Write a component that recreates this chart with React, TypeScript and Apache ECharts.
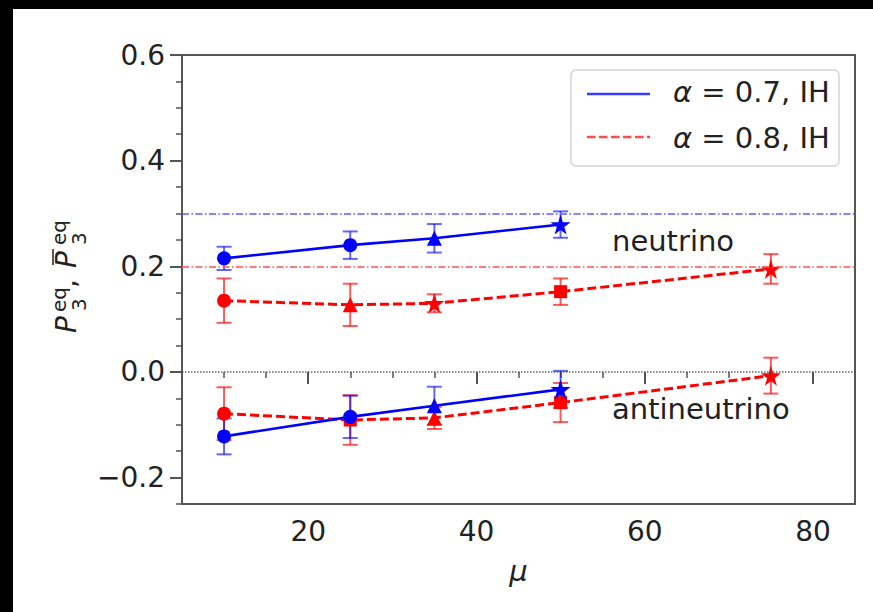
import React, { useEffect, useRef } from 'react';
import * as echarts from 'echarts';

const FONT = 'DejaVu Sans';

// mu values
const muBlue = [10, 25, 35, 50];
const muRed = [10, 25, 35, 50, 75];

// alpha = 0.7, IH (blue)
const blueNu = [0.215, 0.24, 0.253, 0.279];
const blueNuErr = [0.022, 0.026, 0.027, 0.025];
const blueAnti = [-0.122, -0.085, -0.064, -0.033];
const blueAntiErr = [0.034, 0.04, 0.036, 0.035];

// alpha = 0.8, IH (red)
const redNu = [0.135, 0.127, 0.13, 0.152, 0.195];
const redNuErr = [0.042, 0.04, 0.017, 0.025, 0.028];
const redAnti = [-0.079, -0.091, -0.087, -0.058, -0.007];
const redAntiErr = [0.05, 0.047, 0.021, 0.037, 0.034];

// markers
const blueNuMarkers = ['circle', 'circle', 'triangle', 'star'];
const redNuMarkers = ['circle', 'triangle', 'star', 'rect', 'star'];
const blueAntiMarkers = ['circle', 'circle', 'triangle', 'star'];
const redAntiMarkers = ['circle', 'rect', 'triangle', 'rect', 'star'];

// axes
const xMajor = [20, 40, 60, 80];
const yMajor = [-0.2, 0, 0.2, 0.4, 0.6];

const STAR = 'path://M50,0 L61,35 L98,35 L68,57 L79,91 L50,70 L21,91 L32,57 L2,35 L39,35 Z';
const symMap: Record<string, string> = { circle: 'circle', triangle: 'triangle', rect: 'rect', star: STAR };
const sizeMap: Record<string, number> = { circle: 14, triangle: 15, rect: 13, star: 20 };

function lineSeries(name: string, xs: number[], ys: number[], markers: string[], color: string, dashed: boolean) {
  return {
    type: 'line',
    name,
    data: xs.map((x, i) => ({ value: [x, ys[i]], symbol: symMap[markers[i]], symbolSize: sizeMap[markers[i]] })),
    lineStyle: { color, width: dashed ? 3 : 2.6, type: dashed ? [9, 4] : 'solid' },
    itemStyle: { color },
    showSymbol: true,
    z: 4,
    animation: false,
  };
}

function errSeries(xs: number[], ys: number[], errs: number[], color: string) {
  return {
    type: 'custom',
    data: xs.map((x, i) => [x, ys[i], errs[i]]),
    encode: { x: 0, y: 1 },
    z: 3,
    silent: true,
    renderItem: (params: any, api: any) => {
      const x = api.value(0);
      const y = api.value(1);
      const e = api.value(2);
      const t = api.coord([x, y + e]);
      const b = api.coord([x, y - e]);
      const hw = 7.5;
      const st = { stroke: color, lineWidth: 2 };
      return {
        type: 'group',
        children: [
          { type: 'line', shape: { x1: t[0], y1: t[1], x2: b[0], y2: b[1] }, style: st },
          { type: 'line', shape: { x1: t[0] - hw, y1: t[1], x2: t[0] + hw, y2: t[1] }, style: st },
          { type: 'line', shape: { x1: b[0] - hw, y1: b[1], x2: b[0] + hw, y2: b[1] }, style: st },
        ],
      };
    },
  };
}

function fmtY(v: number) {
  if (Math.abs(v) < 1e-9) return '0.0';
  return v < 0 ? '\u2212' + Math.abs(v).toFixed(1) : v.toFixed(1);
}

function txt(x: number, y: number, text: string, fontSize: number, italic: boolean, align = 'left', extra: any = {}) {
  return {
    type: 'text',
    x,
    y,
    style: {
      text,
      fontSize,
      fontFamily: FONT,
      fontStyle: italic ? 'italic' : 'normal',
      fill: '#222',
      align,
      verticalAlign: 'middle',
      textAlign: align,
      textVerticalAlign: 'middle',
      ...extra,
    },
    silent: true,
  };
}

export default function App() {
  const ref = useRef<HTMLDivElement>(null);
  useEffect(() => {
    document.body.style.margin = '0';
    document.documentElement.style.overflow = 'hidden';
    document.body.style.overflow = 'hidden';
    if (!ref.current) return;
    const chart = echarts.init(ref.current, undefined, { renderer: 'svg' });
    const axisCommon = {
      type: 'value',
      gridIndex: 0,
      splitLine: { show: false },
      axisLine: { show: false },
    };
    const option: any = {
      animation: false,
      backgroundColor: '#ffffff',
      textStyle: { fontFamily: FONT },
      grid: {
        left: 169,
        top: 46,
        right: 18,
        bottom: 108,
        show: true,
        borderColor: '#555',
        borderWidth: 2,
        backgroundColor: 'transparent',
      },
      xAxis: [
        {
          ...axisCommon,
          min: 5,
          max: 85,
          interval: 5,
          position: 'bottom',
          axisTick: { show: true, customValues: xMajor, length: 12, lineStyle: { color: '#555', width: 2 } },
          axisLabel: { customValues: xMajor, fontSize: 28, color: '#222', margin: 13, fontFamily: FONT },
          name: '\u03bc',
          nameLocation: 'middle',
          nameGap: 52,
          nameTextStyle: { fontSize: 29, fontStyle: 'italic', color: '#222', fontFamily: FONT },
        },
        {
          ...axisCommon,
          min: 5,
          max: 85,
          interval: 5,
          position: 'bottom',
          axisTick: { show: true, length: 6, lineStyle: { color: '#555', width: 1.5 } },
          axisLabel: { show: false },
        },
      ],
      yAxis: [
        {
          ...axisCommon,
          min: -0.25,
          max: 0.6,
          interval: 0.05,
          position: 'left',
          axisTick: { show: true, customValues: yMajor, length: 12, lineStyle: { color: '#555', width: 2 } },
          axisLabel: { customValues: yMajor, fontSize: 28, color: '#222', margin: 17, fontFamily: FONT, formatter: fmtY },
        },
        {
          ...axisCommon,
          min: -0.25,
          max: 0.6,
          interval: 0.05,
          position: 'left',
          axisTick: { show: true, length: 6, lineStyle: { color: '#555', width: 1.5 } },
          axisLabel: { show: false },
        },
      ],
      series: [
        {
          type: 'line',
          data: [],
          z: 1,
          markLine: {
            silent: true,
            symbol: 'none',
            label: { show: false },
            animation: false,
            data: [
              { yAxis: 0.3, lineStyle: { color: 'rgba(90,90,255,0.75)', width: 2, type: [7, 2.5, 1.5, 2.5] } },
              { yAxis: 0.2, lineStyle: { color: 'rgba(255,80,80,0.75)', width: 2, type: [7, 2.5, 1.5, 2.5] } },
              { yAxis: 0, lineStyle: { color: 'rgba(60,60,60,0.8)', width: 1.5, type: [1.5, 1.5] } },
            ],
          },
        },
        errSeries(muRed, redNu, redNuErr, 'rgba(255,0,0,0.65)'),
        errSeries(muRed, redAnti, redAntiErr, 'rgba(255,0,0,0.65)'),
        lineSeries('\u03b1 = 0.8, IH', muRed, redNu, redNuMarkers, '#ff0000', true),
        lineSeries('\u03b1 = 0.8, IH anti', muRed, redAnti, redAntiMarkers, '#ff0000', true),
        errSeries(muBlue, blueNu, blueNuErr, 'rgba(0,0,255,0.6)'),
        errSeries(muBlue, blueAnti, blueAntiErr, 'rgba(0,0,255,0.6)'),
        lineSeries('\u03b1 = 0.7, IH', muBlue, blueNu, blueNuMarkers, '#0000ff', false),
        lineSeries('\u03b1 = 0.7, IH anti', muBlue, blueAnti, blueAntiMarkers, '#0000ff', false),
      ],
      graphic: [
        // legend
        {
          type: 'rect',
          shape: { x: 558, y: 61, width: 268, height: 96, r: 5 },
          style: { fill: 'rgba(255,255,255,0.85)', stroke: '#d5d5d5', lineWidth: 1.5 },
          z: 10,
          silent: true,
        },
        {
          type: 'line',
          shape: { x1: 574, y1: 85, x2: 637, y2: 85 },
          style: { stroke: '#3a3aff', lineWidth: 2.5 },
          z: 11,
        },
        {
          type: 'line',
          shape: { x1: 574, y1: 128, x2: 637, y2: 128 },
          style: { stroke: '#ff4a4a', lineWidth: 2.5, lineDash: [8.5, 3.5] },
          z: 11,
        },
        { ...txt(660, 83, '{a|\u03b1} = 0.7, IH', 29, false, 'left', { rich: { a: { fontStyle: 'italic', fontSize: 29, fontFamily: FONT, fill: '#222' } } }), z: 11 },
        { ...txt(660, 128.5, '{a|\u03b1} = 0.8, IH', 29, false, 'left', { rich: { a: { fontStyle: 'italic', fontSize: 29, fontFamily: FONT, fill: '#222' } } }), z: 11 },
        // annotations
        txt(599, 231.5, 'neutrino', 29, false),
        txt(599, 400, 'antineutrino', 29, false),
        // y-axis label, rotated
        {
          type: 'group',
          x: 53,
          y: 324,
          rotation: Math.PI / 2,
          silent: true,
          children: [
            txt(0, 0, 'P', 28, true),
            txt(21, -7, 'eq', 20, false),
            txt(22, 13, '3', 20, false),
            txt(45, 0, ',', 28, false),
            txt(65, 0, 'P', 28, true),
            {
              type: 'line',
              shape: { x1: 68, y1: -13, x2: 84, y2: -13 },
              style: { stroke: '#222', lineWidth: 1.5 },
            },
            txt(88, -7, 'eq', 20, false),
            txt(88, 13, '3', 20, false),
          ],
        },
      ],
    };
    chart.setOption(option);
    return () => chart.dispose();
  }, []);
  return (
    <div style={{ position: 'fixed', left: 0, top: 0, right: 0, bottom: 0, background: '#000', overflow: 'hidden' }}>
      <div style={{ position: 'absolute', left: 13, top: 9, right: 0, bottom: 0, background: '#fff' }}>
        <div ref={ref} style={{ position: 'absolute', left: 0, top: 0, width: 860, height: 603 }} />
      </div>
    </div>
  );
}
